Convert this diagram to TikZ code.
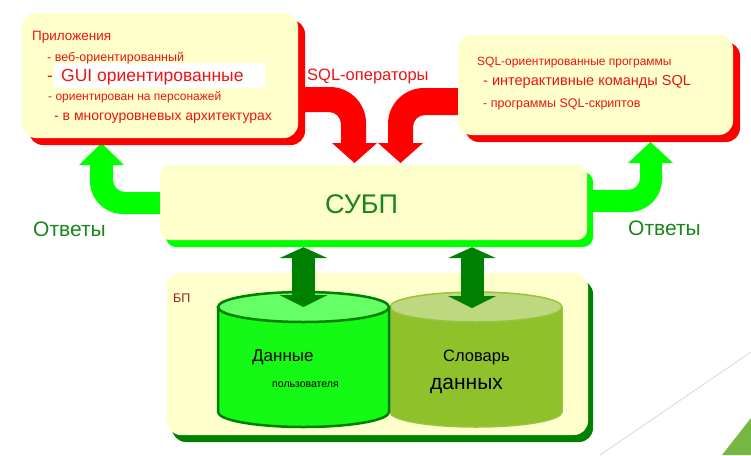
\documentclass[tikz,border=0pt]{standalone}
\usepackage{fontspec}
\setmainfont{Liberation Sans}
\usetikzlibrary{arrows.meta, shadows}
\definecolor{BoxYellow}{RGB}{255,255,204}
\definecolor{SqlRed}{RGB}{255,0,0}
\definecolor{TxtRed}{RGB}{235,20,20}
\definecolor{AnsGreen}{RGB}{0,255,0}
\definecolor{DkGreen}{RGB}{0,128,0}
\definecolor{TxtGreen}{RGB}{25,135,25}
\definecolor{UsrBody}{RGB}{20,250,20}
\definecolor{UsrTop}{RGB}{102,255,102}
\definecolor{DicBody}{RGB}{143,193,43}
\definecolor{DicTop}{RGB}{190,216,128}
\definecolor{DicLine}{RGB}{150,196,60}
\definecolor{BPRed}{RGB}{150,30,30}
\definecolor{SlideGreen}{RGB}{118,182,66}
\definecolor{SlideLine}{RGB}{222,222,222}
\newcommand{\pxfont}[1]{\fontsize{#1}{#1}\selectfont}

\begin{document}
\begin{tikzpicture}[x=1pt, y=-1pt,
    panel/.style={rectangle, fill=BoxYellow, inner sep=0pt,
                  rounded corners=14pt},
    redshadow/.style={general shadow={fill=SqlRed,
                      shadow xshift=7pt, shadow yshift=-7pt}},
    txt/.style={anchor=base west, inner sep=0pt},
    redtxt/.style={txt, TxtRed},
    grntxt/.style={txt, TxtGreen},
    dblarr/.style={DkGreen, line width=23pt,
                   arrows={Triangle[width=48pt,length=11pt]-Triangle[width=48pt,length=12pt]}}
  ]
  \useasboundingbox (0,0) rectangle (751,455);
  % slide corner
  \draw[SlideLine, line width=1pt] (600,455) -- (751,352);
  \fill[SlideGreen] (722,455) -- (751,418) -- (751,455) -- cycle;

  % SQL statements (red block arrows)
  \fill[SqlRed] (290,87) -- (330,87) .. controls (349.9,87) and (366,103.1) .. (366,123)
        -- (366,143) -- (377,143) -- (354.5,163) -- (332,143) -- (341,143)
        -- (341,124) .. controls (341,117.4) and (335.6,112) .. (329,112) -- (290,112) -- cycle;
  \fill[SqlRed] (460,88) -- (424,88) .. controls (404.1,88) and (388,104.1) .. (388,124)
        -- (388,143) -- (378,143) -- (400.5,163) -- (423,143) -- (413,143)
        -- (413,127) .. controls (413,120.4) and (418.4,115) .. (425,115) -- (460,115) -- cycle;

  % answers (green block arrows)
  \fill[AnsGreen] (165,192) -- (125,192) .. controls (118.4,192) and (113,186.6) .. (113,180)
        -- (113,165) -- (124,165) -- (101.5,143) -- (79,165) -- (90,165)
        -- (90,181) .. controls (90,199.2) and (104.8,214) .. (123,214) -- (165,214) -- cycle;
  \fill[AnsGreen] (585,190) -- (628,190) .. controls (634.6,190) and (640,184.6) .. (640,178)
        -- (640,163) -- (628,163) -- (650.5,142) -- (673,163) -- (662,163)
        -- (662,179) .. controls (662,197.2) and (647.2,212) .. (629,212) -- (585,212) -- cycle;

  % boxes
  \node[panel, redshadow, minimum width=276pt, minimum height=125pt] (apps) at (160,75.5) {};
  \node[panel, redshadow, minimum width=275pt, minimum height=100pt] (sqlprog) at (595.5,85) {};
  \node[panel, rounded corners=10pt,
        general shadow={fill=AnsGreen, shadow xshift=6pt, shadow yshift=-7pt},
        minimum width=427pt, minimum height=75pt] (dbms) at (373.5,202.5) {};
  \node[panel, general shadow={fill=DkGreen, shadow xshift=5pt, shadow yshift=-7pt},
        minimum width=421pt, minimum height=162pt] (bp) at (377.5,354) {};

  % applications
  \fill[white] (54,63) rectangle (265,88);
  \node[redtxt, font=\pxfont{13.5}] (tapps) at (32,40) {Приложения};
  \node[redtxt, font=\pxfont{12.5}] (tweb) at (47,61) {- веб-ориентированный};
  \node[redtxt, font=\pxfont{17.5}] (tdash) at (47,81) {-};
  \node[redtxt, font=\pxfont{17.5}] (tgui) at (61,81) {GUI ориентированные};
  \node[redtxt, font=\pxfont{12}] (tpers) at (48,100.5) {- ориентирован на персонажей};
  \node[redtxt, font=\pxfont{14}] (tmulti) at (54,120.5) {- в многоуровневых архитектурах};

  % SQL programs
  \node[redtxt, font=\pxfont{12}] (tsqlprog) at (477,65.5) {SQL-ориентированные программы};
  \node[redtxt, font=\pxfont{14.5}] (tinter) at (483,85) {- интерактивные команды SQL};
  \node[redtxt, font=\pxfont{12.5}] (tscript) at (483,107) {- программы SQL-скриптов};
  \node[redtxt, font=\pxfont{16.5}] (tsqlop) at (307,80) {SQL-операторы};

  \node[grntxt, font=\pxfont{27}] (tdbms) at (325,213) {СУБП};
  \node[grntxt, font=\pxfont{21}] (tansl) at (33,236) {Ответы};
  \node[grntxt, font=\pxfont{21}] (tansr) at (628,235) {Ответы};
  \node[txt, BPRed, font=\pxfont{12.5}] (tbp) at (173,302) {БП};

  % databases
  \filldraw[DicLine, fill=DicBody, line width=1.5pt] (390,307) -- (390,412)
        arc[start angle=180, end angle=0, x radius=86, y radius=15] -- (562,307) -- cycle;
  \filldraw[DicLine, fill=DicTop, line width=1.5pt] (476,307) ellipse[x radius=86, y radius=15];
  \filldraw[DkGreen, fill=UsrBody, line width=2.5pt] (218,307) -- (218,412)
        arc[start angle=180, end angle=0, x radius=85.5, y radius=15] -- (389,307) -- cycle;
  \filldraw[DkGreen, fill=UsrTop, line width=2.5pt] (303.5,307) ellipse[x radius=85.5, y radius=15];

  \node[txt, font=\pxfont{17}] (tusr) at (252,361) {Данные};
  \node[txt, font=\pxfont{10.5}] (tusr2) at (272,387) {пользователя};
  \node[txt, font=\pxfont{16.5}] (tdic) at (443,361) {Словарь};
  \node[txt, font=\pxfont{21}] (tdic2) at (430,389) {данных};

  % dbms <-> storage
  \coordinate (dbmsfoot) at ([yshift=-7pt]dbms.south);
  \coordinate (usrtop) at (303.5,307);
  \coordinate (dictop) at (472,308);
  \draw[dblarr] (dbmsfoot -| usrtop) -- (usrtop);
  \draw[dblarr] (dbmsfoot -| dictop) -- (dictop);
\end{tikzpicture}
\end{document}
